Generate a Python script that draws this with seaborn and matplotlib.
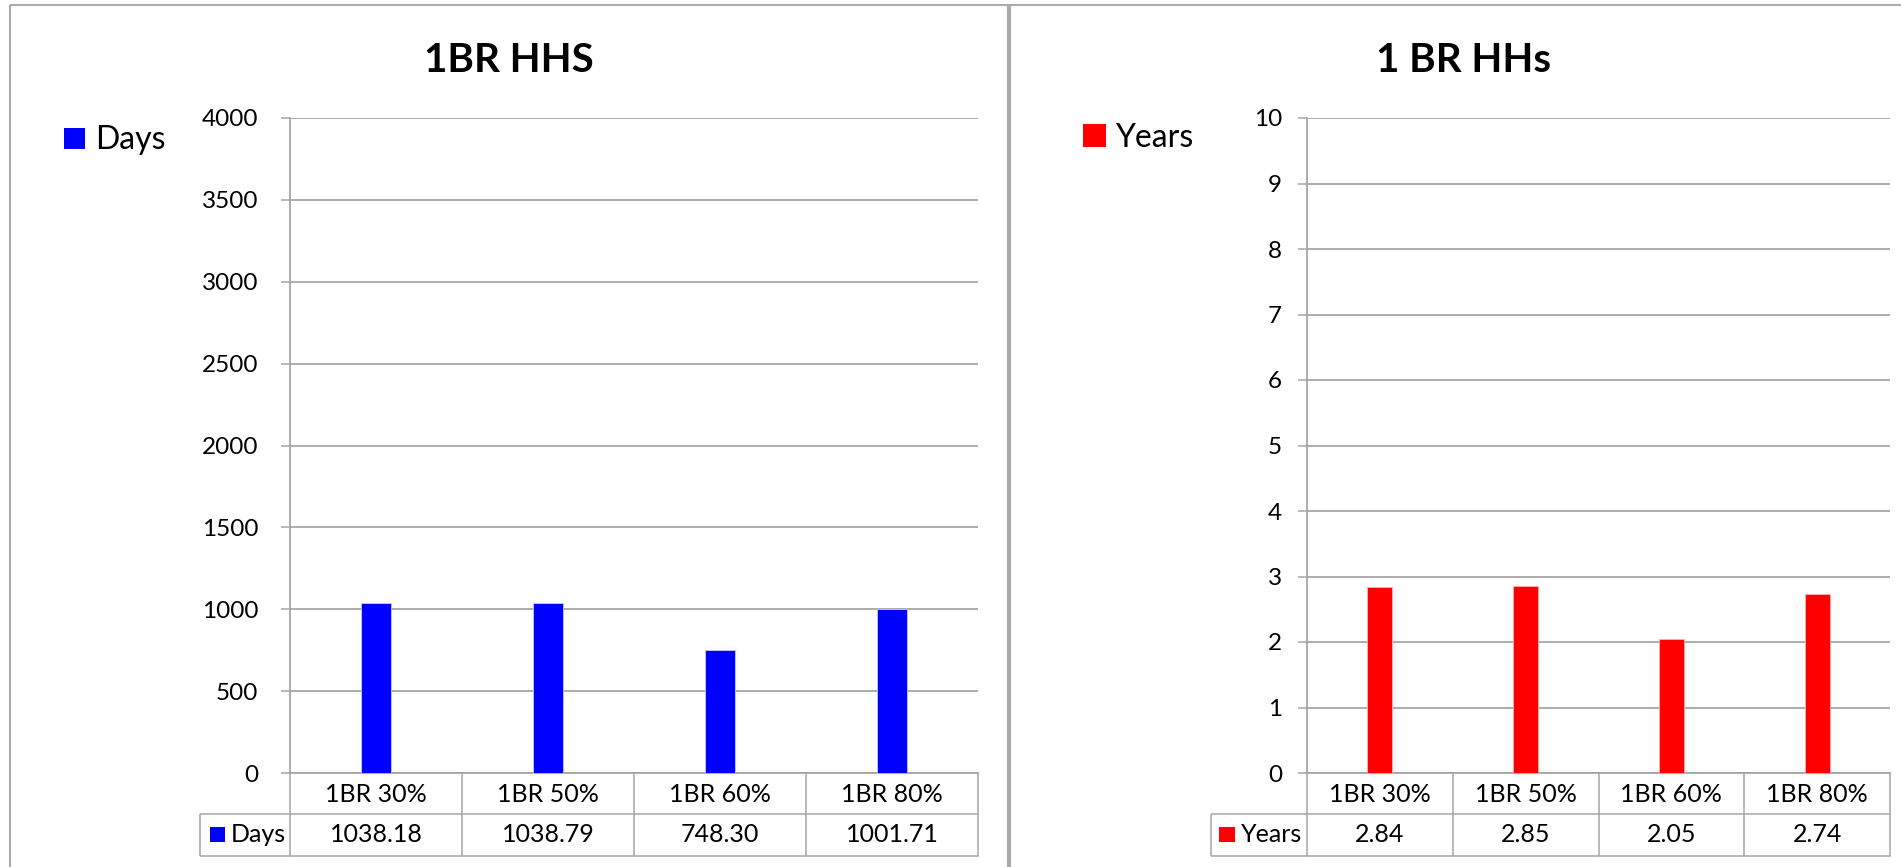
import matplotlib
matplotlib.use("Agg")
import matplotlib.pyplot as plt
import seaborn as sns
import pandas as pd
from matplotlib.lines import Line2D
from matplotlib.patches import Rectangle
from matplotlib.transforms import blended_transform_factory

# ---- data ----
categories = ["1BR 30%", "1BR 50%", "1BR 60%", "1BR 80%"]
days = [1038.18, 1038.79, 748.30, 1001.71]
years = [2.84, 2.85, 2.05, 2.74]
day_ticks = [0, 500, 1000, 1500, 2000, 2500, 3000, 3500, 4000]
year_ticks = [0, 1, 2, 3, 4, 5, 6, 7, 8, 9, 10]
titles = ["1BR HHS", "1 BR HHs"]
series_names = ["Days", "Years"]

sns.set_theme(style="white")
plt.rcParams['font.family'] = ['Lato', 'DejaVu Sans']

W, H = 1901, 867
fig = plt.figure(figsize=(W / 100, H / 100), dpi=100)
GRID = '#a6a6a6'
FRAME = '#ababab'
TICK_FS = 17.5
TBL_FS = 18


def fx(px):
    return px / W


def fy(py):
    return 1 - py / H


def fig_line(xs, ys, color=GRID, lw=1.1):
    fig.add_artist(Line2D([fx(x) for x in xs], [fy(y) for y in ys],
                          color=color, lw=lw, transform=fig.transFigure,
                          solid_capstyle='butt'))


def panel(x0, x1, values, ticks, color, name, title, title_cx,
          leg_sq, leg_text_x, leg_base, tbl_left, tbl_sq, tbl_text_x, tick_pad):
    top, bottom = 118, 773
    ax = fig.add_axes([fx(x0), fy(bottom), (x1 - x0) / W, (bottom - top) / H])
    df = pd.DataFrame({"cat": categories, "val": values})
    sns.barplot(data=df, x="cat", y="val", color=color, width=0.17,
                saturation=1, ax=ax, edgecolor='#c8c8ff' if color == '#0000ff' else '#ffb0b0',
                linewidth=0.6, zorder=3)
    ax.set_xlim(-0.5, len(categories) - 0.5)
    ax.set_ylim(ticks[0], ticks[-1])
    ax.set_yticks(ticks)
    ax.set_yticklabels([str(t) for t in ticks])
    ax.set_xticks([])
    ax.set_xlabel("")
    ax.set_ylabel("")
    ax.yaxis.grid(True, color=GRID, lw=1.3)
    ax.set_axisbelow(True)
    for s in ["top", "right"]:
        ax.spines[s].set_visible(False)
    for s in ["left", "bottom"]:
        ax.spines[s].set_color(GRID)
        ax.spines[s].set_linewidth(1.3)
    ax.tick_params(axis='y', left=True, length=6.5, width=1.1, color=GRID,
                   labelsize=TICK_FS, pad=tick_pad, labelcolor='black')

    # title
    fig.text(fx(title_cx), fy(71.7), title, ha='center', va='baseline',
             fontsize=29, fontweight='bold', color='black')
    # legend
    fig.add_artist(Rectangle((fx(leg_sq[0]), fy(leg_sq[3])),
                             (leg_sq[1] - leg_sq[0]) / W, (leg_sq[3] - leg_sq[2]) / H,
                             transform=fig.transFigure, facecolor=color, edgecolor='none'))
    fig.text(fx(leg_text_x), fy(leg_base), name, ha='left', va='baseline',
             fontsize=23, color='black')

    # data table
    tr = blended_transform_factory(ax.transData, fig.transFigure)
    n = len(categories)
    for i in range(n + 1):
        xb = i - 0.5
        ax.add_artist(Line2D([xb, xb], [fy(773), fy(856)], color=GRID, lw=1.1,
                             transform=tr, clip_on=False))
    ax.add_artist(Line2D([-0.5, n - 0.5], [fy(814), fy(814)], color=GRID, lw=1.1,
                         transform=tr, clip_on=False))
    ax.add_artist(Line2D([-0.5, n - 0.5], [fy(856), fy(856)], color=GRID, lw=1.1,
                         transform=tr, clip_on=False))
    fig_line([tbl_left, x0], [814, 814])
    fig_line([tbl_left, x0], [856, 856])
    fig_line([tbl_left, tbl_left], [814, 856])
    for i, (c, v) in enumerate(zip(categories, values)):
        ax.text(i, fy(802.3), c, ha='center', va='baseline', fontsize=TBL_FS,
                transform=tr, color='black', clip_on=False)
        ax.text(i, fy(842.3), f"{v:.2f}", ha='center', va='baseline', fontsize=TBL_FS,
                transform=tr, color='black', clip_on=False)
    fig.add_artist(Rectangle((fx(tbl_sq[0]), fy(tbl_sq[3])),
                             (tbl_sq[1] - tbl_sq[0]) / W, (tbl_sq[3] - tbl_sq[2]) / H,
                             transform=fig.transFigure, facecolor=color, edgecolor='none'))
    fig.text(fx(tbl_text_x), fy(841.7), name, ha='left', va='baseline',
             fontsize=TBL_FS, color='black')
    return ax


panel(290, 978, days, day_ticks, '#0000ff', series_names[0], titles[0], 509,
      (64, 85, 128, 149), 95, 149, 200, (210, 225, 827, 842), 231, 16.5)
panel(1307, 1890, years, year_ticks, '#ff0000', series_names[1], titles[1], 1464,
      (1083, 1106, 124, 147), 1115, 146.7, 1211, (1219, 1235, 827, 842), 1241, 11.5)

# chart frames
fig_line([10, 10], [5, 867], color=FRAME, lw=1.5)
fig_line([10, 1901], [5, 5], color=FRAME, lw=1.5)
fig_line([1009, 1009], [5, 867], color=FRAME, lw=3.0)

fig.savefig("out.png", dpi=100)
